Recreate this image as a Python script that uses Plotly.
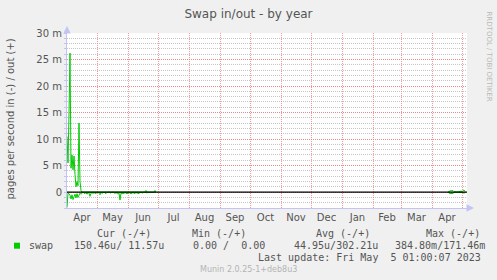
import datetime as dt
import plotly.graph_objects as go

# ---------------- data (milli pages / second) ----------------
start_2022 = "2022-04-01"
out_2022 = [10.5, 5.5, 15.0, 26.2, 4.5, 7.0, 4.2, 6.8, 3.3, 1.0, 2.0, 1.2, 13.0, 2.0, 0.3, 0.0,
            0, 0, 0, 0, 0, 0, 0, 0, 0, 0, 0, 0, 0, 0,
            0, 0, 0, 0, 0, 0, 0, 0, 0, 0, 0, 0, 0, 0, 0, 0, 0, 0, 0, 0,
            0, 0, 0, 0, 0, 0, 0, 0, 0, 0, 0, 0, 0, 0, 0, 0.1, 0, 0, 0, 0,
            0, 0, 0, 0, 0, 0, 0, 0, 0, 0.3, 0, 0, 0, 0, 0, 0, 0, 0, 0.3, 0]
in_2022 = [2.9, 0.2, 0.3, 0.6, 1.3, 0.5, 1.4, 0.6, 0.4, 1.1, 0.3, 1.0, 0.4, 0.2, 0.4, 0.1,
           0.0, 0.2, 0.3, 0.1, 0.4, 0.1, 0.2, 0.8, 0.2, 0.1, 0.3, 0.1, 0.2, 0.3,
           0.1, 0.0, 0.2, 0.5, 0.1, 0.2, 0.2, 0.0, 0.1, 0.3, 0.1, 0.0, 0.0, 0.1, 0.2, 0.0, 0.0, 0.1, 0.3, 0.1,
           0.2, 0.4, 0.2, 1.5, 0.2, 0.3, 0.2, 0.3, 0.1, 0.2, 0.3, 0.2, 0.1, 0.2, 0.3, 0.2, 0.1, 0.2, 0.3, 0.1,
           0.2, 0.2, 0.3, 0.1, 0.0, 0.2, 0.1, 0.0, 0.1, 0.0, 0.2, 0.0, 0.1, 0.0, 0.0, 0.1, 0.0, 0.0, 0.0, 0.0]
start_2023 = "2023-04-17"
out_2023 = [0.0, 0.1, 0.3, 0.3, 0.2, 0.3, 0.1, 0.0, 0.0, 0.0, 0.0, 0.0, 0.1, 0.2, 0.1, 0.3, 0.4, 0.1]
in_2023 = [0.0, 0.2, 0.3, 0.2, 0.3, 0.2, 0.0, 0.0, 0.0, 0.0, 0.0, 0.0, 0.0, 0.1, 0.0, 0.1, 0.2, 0.1]

x_range = ["2022-04-01", "2023-05-06"]
y_range = [-3, 30]
y_tickvals = [0, 5, 10, 15, 20, 25, 30]
y_ticktext = ["0", "5 m", "10 m", "15 m", "20 m", "25 m", "30 m"]

title = "Swap in/out - by year"
y_label = "pages per second in (-) / out (+)"
series_name = "swap"
headers = ["Cur (-/+)", "Min (-/+)", "Avg (-/+)", "Max (-/+)"]
stats = ["150.46u/ 11.57u", "0.00 /  0.00", "44.95u/302.21u", "384.80m/171.46m"]
last_update = "Last update: Fri May  5 01:00:07 2023"
footer = "Munin 2.0.25-1+deb8u3"
watermark = "RRDTOOL / TOBI OETIKER"

# ---------------- figure ----------------
GREEN = "#00cc00"
TXT = "#555555"
LAV = "#c4c4f4"
W, H = 497, 280
L, R, T, B = 67, 30, 33, 72
PW, PH = W - L - R, H - T - B


def px(x):
    return (x - L) / PW


def py(y):
    return (H - B - y) / PH


def days(start, n):
    d0 = dt.date.fromisoformat(start)
    return [d0 + dt.timedelta(days=i) for i in range(n)]


fig = go.Figure()
for start, outs, ins in [(start_2022, out_2022, in_2022), (start_2023, out_2023, in_2023)]:
    xs = days(start, len(outs))
    fig.add_trace(go.Scatter(x=xs, y=[-v for v in ins], mode="lines",
                             line=dict(color=GREEN, width=1), showlegend=False, hoverinfo="skip"))
    fig.add_trace(go.Scatter(x=xs, y=outs, mode="lines",
                             line=dict(color=GREEN, width=1), showlegend=False, hoverinfo="skip"))

fig.add_hline(y=0, line=dict(color="black", width=1.2), layer="above")

fig.update_layout(
    width=W, height=H,
    margin=dict(l=L, r=R, t=T, b=B),
    paper_bgcolor="#f0f0f0", plot_bgcolor="white",
    font=dict(family="DejaVu Sans", color=TXT, size=10),
    title=dict(text=title, x=0.5, xanchor="center", y=1 - 14 / H, yanchor="middle",
               font=dict(family="DejaVu Sans", size=12, color=TXT)),
    showlegend=False,
)
fig.update_xaxes(
    type="date", range=x_range, tick0="2022-04-01", dtick="M1", tickformat="%b",
    ticklabelmode="period", ticks="", showgrid=True, gridcolor="rgba(240,120,120,0.75)",
    griddash="1px,1px", gridwidth=1, showline=True, linecolor=LAV, linewidth=1,
    tickfont=dict(family="DejaVu Sans", size=10, color=TXT), zeroline=False,
)
fig.update_yaxes(
    range=y_range, tickvals=y_tickvals, ticktext=y_ticktext, showgrid=True,
    gridcolor="rgba(240,120,120,0.75)", griddash="1px,1px", gridwidth=1,
    minor=dict(dtick=1, tick0=0, showgrid=True, gridcolor="rgba(150,150,150,0.55)",
               griddash="1px,1px", ticks="outside", ticklen=2, tickcolor=LAV),
    ticks="outside", ticklen=2, tickcolor=LAV,
    showline=True, linecolor=LAV, linewidth=1, zeroline=False,
    tickfont=dict(family="DejaVu Sans", size=10, color=TXT),
)


def note(x, y, text, font, xanchor="center", **kw):
    return dict(x=px(x), y=py(y), xref="paper", yref="paper", text=text.replace(" ", "\u00a0"),
                xanchor=xanchor, yanchor="middle", showarrow=False, font=font, **kw)


ann = []
# axis arrows
ann.append(dict(x=0, y=py(26), xref="paper", yref="paper", ax=0, ay=7, text="",
                showarrow=True, arrowhead=2, arrowsize=1.5, arrowwidth=1, arrowcolor=LAV))
ann.append(dict(x=px(474), y=0, xref="paper", yref="paper", ax=-7, ay=0, text="",
                showarrow=True, arrowhead=2, arrowsize=1.5, arrowwidth=1, arrowcolor=LAV))
sans10 = dict(family="DejaVu Sans", size=10, color=TXT)
ann.append(note(10, 119.5, y_label, sans10, textangle=-90))
ann.append(note(488, 56.5, watermark, dict(family="DejaVu Sans", size=7, color="#b8b8b8"), textangle=90))
# legend block
mono = dict(family="DejaVu Sans Mono", size=10, color=TXT)
header_x = [94.5, 190, 314, 423.5]
stat_x = [71.5, 190.7, 291.7, 392.7]
for hx, h in zip(header_x, headers):
    ann.append(note(hx, 233.3, h, mono, xanchor="left"))
ann.append(note(26.7, 245.7, series_name, mono, xanchor="left"))
for sx, s in zip(stat_x, stats):
    ann.append(note(sx, 245.7, s, mono, xanchor="left"))
ann.append(note(483, 257.7, last_update, mono, xanchor="right"))
ann.append(note(248.5, 269, footer, dict(family="DejaVu Sans", size=8, color="#b4b4b4")))
fig.update_layout(annotations=ann)

fig.add_shape(type="rect", xref="paper", yref="paper", x0=px(14), x1=px(20), y0=py(248.7), y1=py(242.7),
              fillcolor=GREEN, line=dict(width=0))

fig.write_html("out.html")
